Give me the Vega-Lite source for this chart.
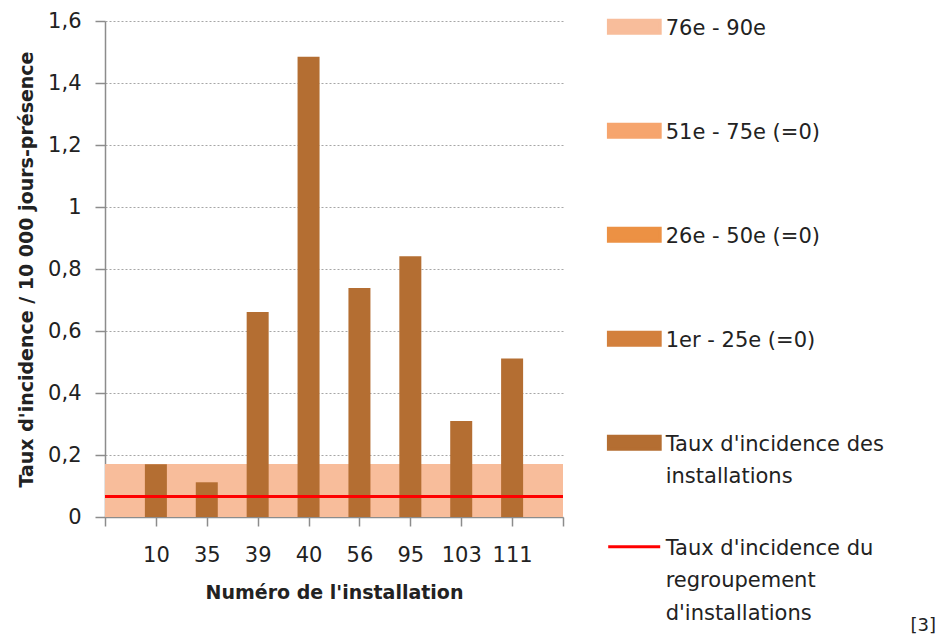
{
  "$schema": "https://vega.github.io/schema/vega-lite/v6.json",
  "width": 458,
  "height": 496,
  "autosize": {"type": "none"},
  "padding": {"left": 105, "top": 21, "right": 377, "bottom": 119},
  "background": "white",
  "config": {
    "view": {"stroke": null},
    "font": "DejaVu Sans",
    "axis": {
      "labelFont": "DejaVu Sans",
      "labelFontSize": 21,
      "labelColor": "#222222",
      "titleFont": "DejaVu Sans",
      "titleFontSize": 19,
      "titleFontWeight": "bold",
      "titleColor": "#222222",
      "tickColor": "#8c8c8c",
      "tickWidth": 1.5,
      "domainColor": "#8c8c8c",
      "domainWidth": 1.5
    }
  },
  "title": {
    "text": "[3]",
    "orient": "bottom",
    "anchor": "end",
    "frame": "group",
    "dx": 373,
    "offset": -24,
    "fontSize": 18,
    "fontWeight": "normal",
    "font": "DejaVu Sans",
    "color": "#222222"
  },
  "layer": [
    {
      "data": {
        "values": [
          {"serie": "1er - 25e (=0)", "bas": 0, "haut": 0},
          {"serie": "26e - 50e (=0)", "bas": 0, "haut": 0},
          {"serie": "51e - 75e (=0)", "bas": 0, "haut": 0},
          {"serie": "76e - 90e", "bas": 0, "haut": 0.171}
        ]
      },
      "mark": {"type": "rect"},
      "encoding": {
        "y": {
          "field": "haut",
          "type": "quantitative",
          "scale": {"domain": [0, 1.6], "nice": false, "zero": true},
          "axis": {
            "title": "Taux d'incidence  / 10 000 jours-présence",
            "values": [0, 0.2, 0.4, 0.6, 0.8, 1, 1.2, 1.4, 1.6],
            "labelExpr": "replace(format(datum.value, '.1~f'), '.', ',')",
            "labelPadding": 14,
            "tickSize": 10,
            "titlePadding": 11,
            "grid": true,
            "gridColor": "#a6a6a6",
            "gridDash": [2, 2],
            "gridWidth": 1
          }
        },
        "y2": {"field": "bas"},
        "color": {
          "field": "serie",
          "type": "nominal",
          "scale": {
            "domain": ["76e - 90e", "51e - 75e (=0)", "26e - 50e (=0)", "1er - 25e (=0)", "Taux d'incidence des installations", "Taux d'incidence du regroupement d'installations"],
            "range": ["#f8bd9b", "#f6a56e", "#ec9144", "#d3803d", "#b46e32", "#ff0000"]
          },
          "legend": {
            "title": null,
            "orient": "none",
            "legendX": 501.7,
            "legendY": -4.3,
            "padding": 0,
            "rowPadding": 0,
            "clipHeight": 103.3,
            "symbolSize": 2704,
            "labelFont": "DejaVu Sans",
            "labelFontSize": 21,
            "labelColor": "#222222",
            "labelOffset": 4,
            "labelLimit": 400,
            "labelBaseline": "top",
            "labelExpr": "datum.label == \"Taux d'incidence des installations\" ? [\"Taux d'incidence des\", \"installations\"] : datum.label == \"Taux d'incidence du regroupement d'installations\" ? [\"Taux d'incidence du\", \"regroupement\", \"d'installations\"] : datum.label",
            "encode": {
              "symbols": {
                "update": {
                  "shape": {"signal": "datum.value == \"Taux d'incidence du regroupement d'installations\" ? 'M-1,0H1' : 'M-1,-0.25H1V0.25H-1Z'"},
                  "fill": {"scale": "color", "field": "value"},
                  "stroke": {"signal": "datum.value == \"Taux d'incidence du regroupement d'installations\" ? '#ff0000' : 'transparent'"},
                  "strokeWidth": {"value": 3},
                  "opacity": {"value": 1},
                  "y": {"value": 10}
                }
              },
              "labels": {
                "update": {
                  "y": {"value": 1},
                  "lineHeight": {"value": 32.5}
                }
              }
            }
          }
        }
      }
    },
    {
      "data": {
        "values": [
          {"installation": "10", "taux": 0.17, "serie": "Taux d'incidence des installations"},
          {"installation": "35", "taux": 0.112, "serie": "Taux d'incidence des installations"},
          {"installation": "39", "taux": 0.661, "serie": "Taux d'incidence des installations"},
          {"installation": "40", "taux": 1.485, "serie": "Taux d'incidence des installations"},
          {"installation": "56", "taux": 0.739, "serie": "Taux d'incidence des installations"},
          {"installation": "95", "taux": 0.841, "serie": "Taux d'incidence des installations"},
          {"installation": "103", "taux": 0.31, "serie": "Taux d'incidence des installations"},
          {"installation": "111", "taux": 0.511, "serie": "Taux d'incidence des installations"}
        ]
      },
      "mark": {"type": "bar", "width": 22},
      "encoding": {
        "x": {
          "field": "installation",
          "type": "ordinal",
          "scale": {"type": "point", "padding": 0, "domain": ["", "10", "35", "39", "40", "56", "95", "103", "111", " "]},
          "axis": {
            "title": "Numéro de l'installation",
            "labelAngle": 0,
            "labelPadding": 18,
            "tickSize": 9,
            "titlePadding": 18,
            "grid": false
          }
        },
        "y": {"field": "taux", "type": "quantitative"},
        "color": {"field": "serie", "type": "nominal"}
      }
    },
    {
      "data": {
        "values": [
          {"taux": 0.066, "serie": "Taux d'incidence du regroupement d'installations"}
        ]
      },
      "mark": {"type": "rule", "strokeWidth": 3},
      "encoding": {
        "y": {"field": "taux", "type": "quantitative"},
        "color": {"field": "serie", "type": "nominal"}
      }
    }
  ]
}
